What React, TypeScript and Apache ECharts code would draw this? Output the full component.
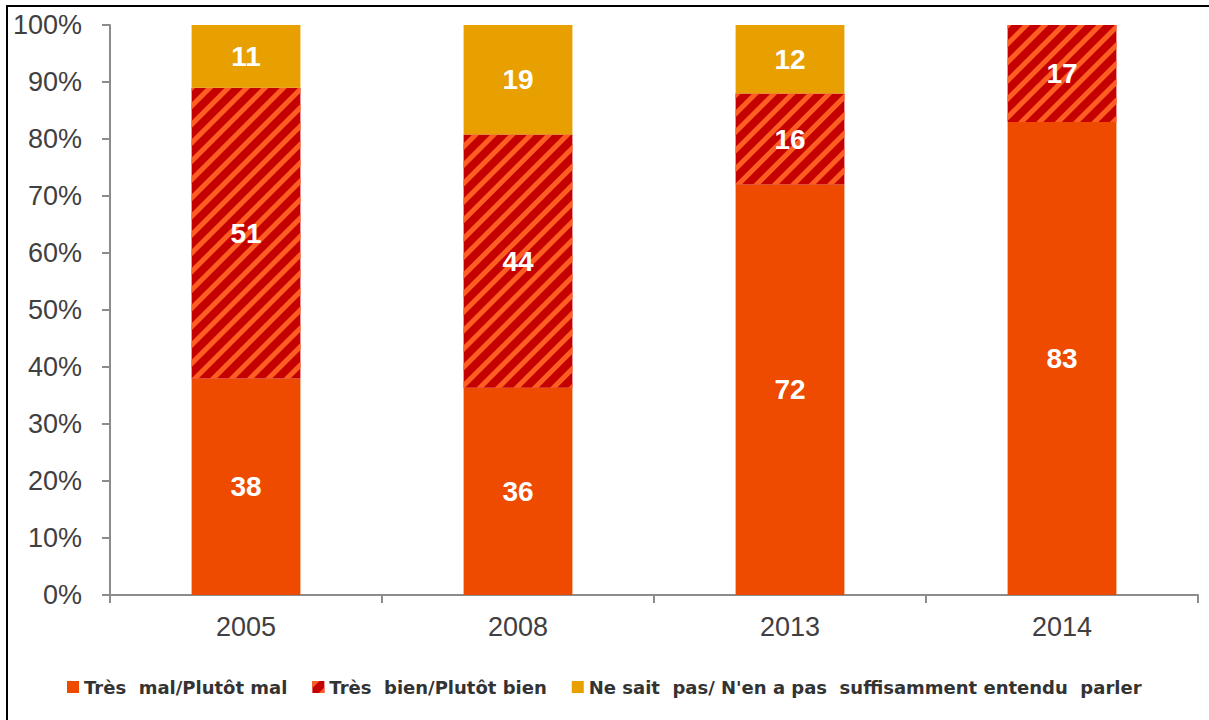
import React, { useEffect, useRef } from "react";
import * as echarts from "echarts";

const categories = ["2005", "2008", "2013", "2014"];
const seriesNames = [
  "Très  mal/Plutôt mal",
  "Très  bien/Plutôt bien",
  "Ne sait  pas/ N'en a pas  suffisamment entendu  parler",
];
const malValues = [38, 36, 72, 83];
const bienValues = [51, 44, 16, 17];
const nspValues = [11, 19, 12, 0];
const yTicks = [0, 10, 20, 30, 40, 50, 60, 70, 80, 90, 100];

const rawSeries = [malValues, bienValues, nspValues];
const totals = categories.map((_, i) => malValues[i] + bienValues[i] + nspValues[i]);
const colors = ["#EE4A00", "#C40000", "#E8A000"];

export default function App() {
  const ref = useRef<HTMLDivElement>(null);
  useEffect(() => {
    if (!ref.current) return;
    const chart = echarts.init(ref.current, null, { renderer: "svg" });
    const font = "'Liberation Sans', Arial, sans-serif";
    const legendFont = "'DejaVu Sans', sans-serif";
    const series = rawSeries.map((vals, si) => ({
      name: seriesNames[si],
      type: "bar",
      stack: "total",
      barWidth: "40%",
      data: vals.map((v, i) => (v / totals[i]) * 100),
      itemStyle:
        si === 1
          ? {
              color: colors[si],
              decal: {
                symbol: "rect",
                symbolSize: 1,
                dashArrayX: [1, 0],
                dashArrayY: [5, 7.5],
                rotation: -Math.PI / 4,
                color: "#FF5E22",
              },
            }
          : { color: colors[si] },
      label: {
        show: true,
        position: "inside",
        color: "#ffffff",
        fontSize: 28,
        fontWeight: "bold",
        fontFamily: font,
        formatter: (p: any) => {
          const v = vals[p.dataIndex];
          return v > 0 ? String(v) : "";
        },
      },
    }));
    chart.setOption({
      animation: false,
      grid: { left: 110, top: 25, right: 11, bottom: 125, containLabel: false },
      legend: {
        left: 62,
        top: 673,
        itemWidth: 12,
        itemHeight: 12,
        itemGap: 25,
        icon: "rect",
        data: seriesNames,
        textStyle: { color: "#333333", fontSize: 18, fontWeight: "bold", fontFamily: legendFont },
      },
      xAxis: {
        type: "category",
        data: categories,
        axisLine: { show: true, lineStyle: { color: "#8C8C8C", width: 2 } },
        axisTick: { show: true, length: 8, lineStyle: { color: "#8C8C8C", width: 2 } },
        axisLabel: { color: "#404040", fontSize: 27, fontFamily: font, margin: 18 },
      },
      yAxis: {
        type: "value",
        min: yTicks[0],
        max: yTicks[yTicks.length - 1],
        interval: 10,
        axisLine: { show: true, lineStyle: { color: "#8C8C8C", width: 2 } },
        axisTick: { show: true, length: 8, lineStyle: { color: "#8C8C8C", width: 2 } },
        splitLine: { show: false },
        axisLabel: {
          color: "#404040",
          fontSize: 27,
          fontFamily: font,
          margin: 28,
          formatter: "{value}%",
        },
      },
      graphic: [
        {
          type: "rect",
          shape: { x: 7, y: 6, width: 1400, height: 900 },
          style: { fill: "none", stroke: "#000000", lineWidth: 2 },
          silent: true,
        },
      ],
      series,
    });
    return () => chart.dispose();
  }, []);
  return (
    <div
      ref={ref}
      style={{ position: "absolute", left: 0, top: 0, width: 1209, height: 720, background: "#fff" }}
    />
  );
}
